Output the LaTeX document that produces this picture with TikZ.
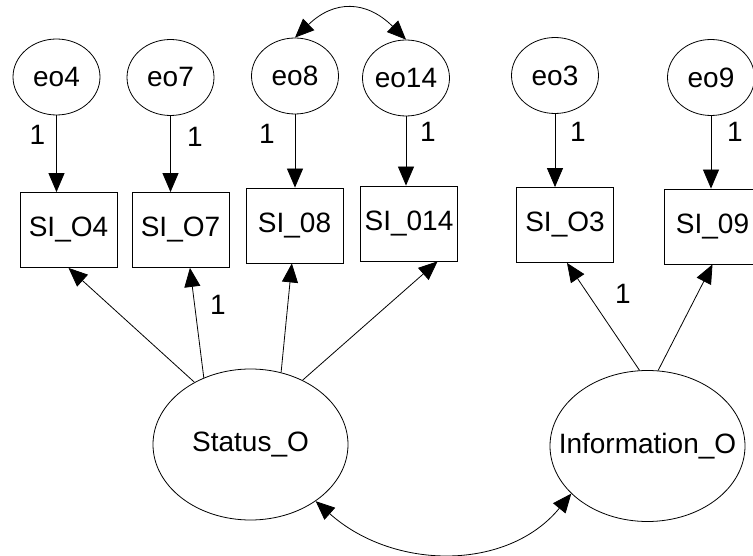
\documentclass[tikz,border=0pt]{standalone}
\usepackage{fontspec}
\setmainfont{Liberation Sans}
\usetikzlibrary{shapes.geometric,arrows.meta}
\begin{document}
\begin{tikzpicture}[x=1pt,y=-1pt,
  every node/.style={font=\fontsize{28}{33}\selectfont},
  err/.style={ellipse, draw, line width=0.8pt, minimum width=87pt, minimum height=76pt, inner sep=0pt},
  lat/.style={ellipse, draw, line width=0.8pt, minimum width=195pt, minimum height=151pt, inner sep=0pt},
  obs/.style={rectangle, draw, line width=0.8pt, minimum width=97pt, minimum height=75pt, inner sep=0pt},
  reg/.style={line width=0.8pt, -{Triangle[length=19pt,width=16pt]}},
  cov/.style={line width=0.8pt, {Triangle[length=19pt,width=16pt]}-{Triangle[length=19pt,width=16pt]}},
  wt/.style={inner sep=0pt}
]
\useasboundingbox (0,0) rectangle (753,556);

% error terms
\node[err, label=center:eo4]  (e4)  at (56.5,77)   {};
\node[err, label=center:eo7]  (e7)  at (170.5,77.5) {};
\node[err, label=center:eo8]  (e8)  at (295,76)    {};
\node[err, label=center:eo14] (e14) at (406,78)    {};
\node[err, label=center:eo3]  (e3)  at (555,75.5)  {};
\node[err, label=center:eo9]  (e9)  at (711,77.5)  {};

% observed indicators
\node[obs] (b4)  at (68.5,230)   {SI\_O4};
\node[obs] (b7)  at (180.5,230)  {SI\_O7};
\node[obs] (b8)  at (294.5,225.5) {SI\_08};
\node[obs] (b14) at (409,223.5)  {SI\_014};
\node[obs] (b3)  at (565,225)    {SI\_O3};
\node[obs] (b9)  at (712.5,226.5) {SI\_09};

% latent factors
\node[lat, label=center:Status\_O]      (stat) at (250.5,444.5) {};
\node[lat, label=center:Information\_O] (info) at (647.5,446)   {};

% error paths
\draw[reg] (e4.south)  -- (e4.south |- b4.north);
\draw[reg] (e7.south)  -- (e7.south |- b7.north);
\draw[reg] (e8.south)  -- (e8.south |- b8.north);
\draw[reg] (e14.south) -- (e14.south |- b14.north);
\draw[reg] (e3.south)  -- (e3.south |- b3.north);
\draw[reg] (e9.south)  -- (e9.south |- b9.north);

% factor loadings
\draw[reg] (stat.132)  -- (b4.south);
\draw[reg] (stat.125)  -- (b7.-76);
\draw[reg] (stat.67.6) -- (b8.-94);
\draw[reg] (stat.51)   -- (b14.-53.5);
\draw[reg] (info.96.5) -- (b3.-87);
\draw[reg] (info.82)   -- (b9.south);

% covariances
\draw[cov] (e8.north) .. controls (334,0) and (366,0) .. (e14.north);
\draw[cov] (stat.-41) .. controls (394,571) and (508,571) .. (info.-148);

% fixed weights
\node[wt] (w4)  at (37.5,135) {1};
\node[wt] (w7)  at (195,137)  {1};
\node[wt] (w8)  at (267,134)  {1};
\node[wt] (w14) at (428,132)  {1};
\node[wt] (w3)  at (578,132)  {1};
\node[wt] (w9)  at (735,132)  {1};
\node[wt] (ws7) at (218,305)  {1};
\node[wt] (wi3) at (623,294)  {1};
\end{tikzpicture}
\end{document}
